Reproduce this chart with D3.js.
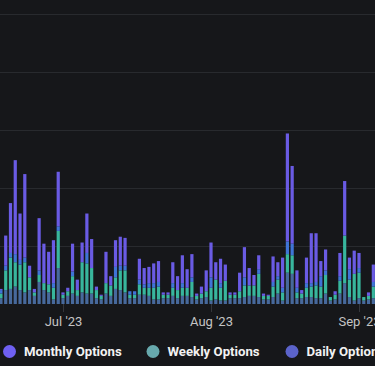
<!DOCTYPE html>
<html><head><meta charset="utf-8">
<script src="https://cdn.jsdelivr.net/npm/d3@7"></script>
<style>
html,body{margin:0;padding:0;background:#16171a;overflow:hidden;}
svg{display:block;}
</style></head><body>
<svg id="c" width="375" height="366"></svg>
<script>
// ---- data ----
const startDate = "2023-06-18";
const endDate = "2023-09-05"; // exclusive
const seriesKeys = ["Quarterly Options", "Weekly Options", "Daily Options", "Monthly Options"];
const quarterlyOptions = [5,12,13,15,12,10,12,7,19,12, 10,4,31,5,7,9,7,10,9,9, 5,4,9,7,13,12,10,5,5,8, 8,7,4,4,5,5,7,5,7,7, 6,4,5,6,3,4,3,3,5,5, 5,6,7,7,6,4,4,6,9,3, 27,26,5,5,6,6,5,5,9,3, 4,9,18,6,3,5,3,4,5];
const weeklyOptions = [4,17,27,21,22,26,11,3,6,6, 7,10,32,3,4,15,5,26,26,22, 7,3,9,9,10,17,19,3,3,9, 6,7,10,11,3,3,7,7,7,7, 13,3,4,5,11,17,11,17,3,3, 6,10,9,9,20,3,3,9,12,7, 16,16,5,4,8,9,11,10,16,3, 4,11,41,15,23,22,3,3,10];
const dailyOptions = [3,4,4,7,4,4,0,0,4,0, 0,4,4,0,0,4,0,0,9,0, 0,0,0,0,9,4,4,3,3,4, 3,4,4,4,0,0,4,0,4,0, 4,0,0,0,9,0,4,0,0,0, 0,7,0,0,4,0,0,4,3,4, 11,10,4,0,4,3,3,9,4,0, 0,4,0,9,0,4,0,0,4];
const monthlyOptions = [1,26,43,81,40,72,10,3,45,34, 28,37,47,2,3,24,9,17,34,25, 3,1,27,8,23,25,24,0,0,18, 14,14,17,18,2,2,18,12,24,16, 20,2,6,18,30,15,21,14,2,2, 16,26,15,9,12,2,1,22,12,26, 93,67,15,3,22,43,42,13,18,0, 3,20,47,10,20,13,0,3,15];
const monthTicks = ["2023-07-01", "2023-08-01", "2023-09-01"];
const yTicks = [50, 100, 150, 200, 250];
const legendItems = ["Monthly Options", "Weekly Options", "Daily Options", "Quarterly Options"];

// ---- styles ----
const barColors = {"Quarterly Options":"#47699c","Weekly Options":"#38b69d","Daily Options":"#3f74d6","Monthly Options":"#6a5be4"};
const legendColors = {"Monthly Options":"#6f60f2","Weekly Options":"#67a9ad","Daily Options":"#5b63ca","Quarterly Options":"#47699c"};

const parse = d3.utcParse("%Y-%m-%d");
const dates = d3.utcDay.range(parse(startDate), parse(endDate));
const rows = dates.map((d, i) => ({
  date: d,
  "Quarterly Options": quarterlyOptions[i],
  "Weekly Options": weeklyOptions[i],
  "Daily Options": dailyOptions[i],
  "Monthly Options": monthlyOptions[i]
}));

const svg = d3.select("#c");
const x = d3.scaleUtc().domain([parse(monthTicks[0]), parse(monthTicks[2])]).range([63, 359]);
const y = d3.scaleLinear().domain([0, 250]).range([304, 14]);

// grid
svg.append("g").selectAll("line").data(yTicks).join("line")
  .attr("x1", 0).attr("x2", 375)
  .attr("y1", d => y(d) + 0.5).attr("y2", d => y(d) + 0.5)
  .attr("stroke", "#282a2e").attr("stroke-width", 1);

// bars
const stack = d3.stack().keys(seriesKeys)(rows);
const bw = 3.2;
svg.append("g").selectAll("g").data(stack).join("g")
  .attr("fill", s => barColors[s.key])
  .selectAll("rect").data(s => s).join("rect")
  .attr("x", d => x(d.data.date) - bw / 2)
  .attr("width", bw)
  .attr("y", d => y(d[1]))
  .attr("height", d => Math.max(0, y(d[0]) - y(d[1])));

// x axis
const xAxis = d3.axisBottom(x)
  .tickValues(monthTicks.map(parse))
  .tickFormat(d3.utcFormat("%b '%y"))
  .tickSize(8).tickSizeOuter(0).tickPadding(5);
const gx = svg.append("g").attr("transform", "translate(0,304)").call(xAxis);
gx.select(".domain").remove();
gx.selectAll(".tick line").attr("stroke", "#34363b");
gx.selectAll(".tick text").attr("fill", "#c4c4c4")
  .style("font-family", "Roboto, sans-serif").style("font-size", "13px");

// legend
const lg = svg.append("g").attr("transform", "translate(0,351.5)");
const legendX = [9.5, 153, 292, 430];
const item = lg.selectAll("g").data(legendItems).join("g")
  .attr("transform", (d, i) => `translate(${legendX[i]},0)`);
item.append("circle").attr("r", 6.5).attr("fill", d => legendColors[d]);
item.append("text").attr("x", 14.5).attr("dy", "0.35em")
  .attr("fill", "#f2f2f2")
  .style("font-family", "Roboto, sans-serif").style("font-size", "13.2px").style("font-weight", "700")
  .text(d => d);
</script>
</body></html>
